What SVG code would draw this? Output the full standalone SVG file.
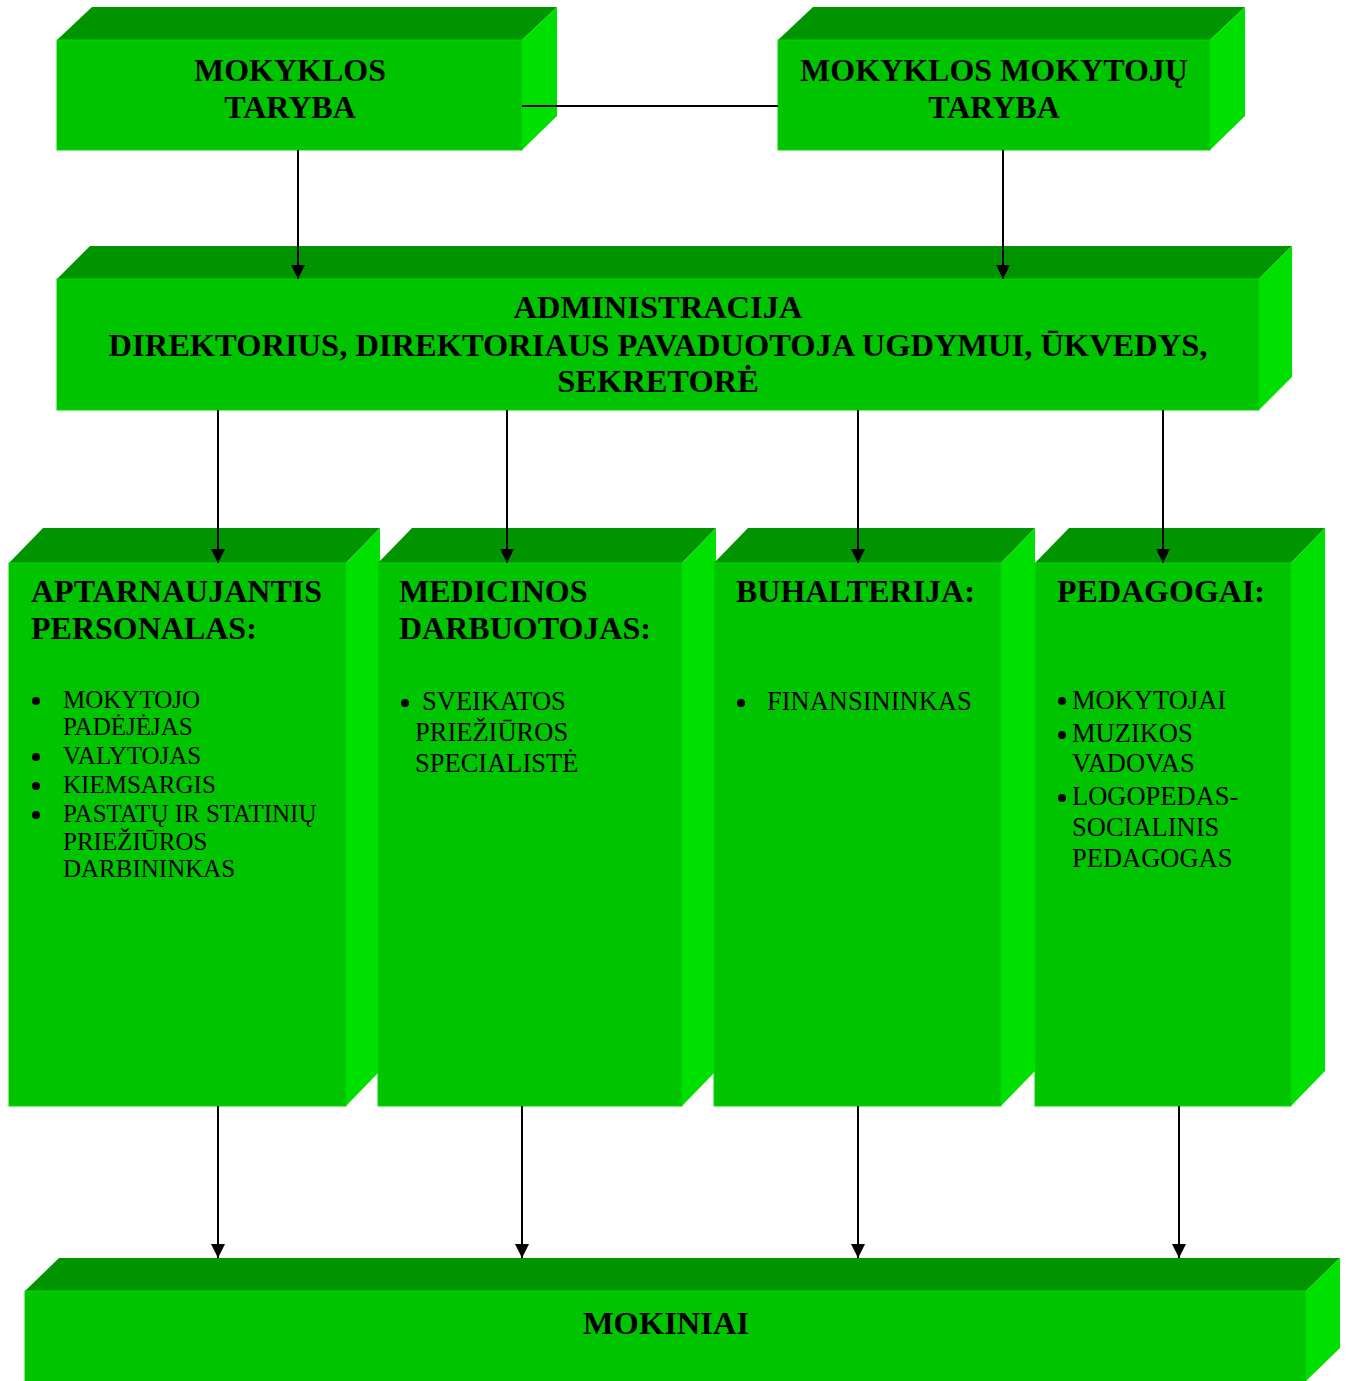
<svg xmlns="http://www.w3.org/2000/svg" width="1346" height="1381" viewBox="0 0 1346 1381">
<defs>
<style>
.front{fill:#00C400;stroke:#00D800;stroke-width:1}
.top{fill:#009400}
.side{fill:#00E000}
.h{font-family:"Liberation Serif","Times New Roman",serif;font-weight:bold;font-size:32px;fill:#000}
.hb{font-size:32.5px}
.t{font-family:"Liberation Serif","Times New Roman",serif;font-size:25px;fill:#000}
.t2{font-size:26.5px}
.c{text-anchor:middle}
.ln{stroke:#000;stroke-width:2;fill:none}
</style>
<marker id="arr" viewBox="0 0 14 14" refX="14" refY="7" markerWidth="14" markerHeight="14" markerUnits="userSpaceOnUse" orient="auto">
<path d="M0,0 L14,7 L0,14 Z" fill="#000"/>
</marker>
</defs>
<rect width="1346" height="1381" fill="#fff"/>

<g id="mokyklos-taryba">
<polygon class="top" points="57,40 92,7 557,7 522,40"/>
<polygon class="side" points="522,40 557,7 557,116 522,150"/>
<rect class="front" x="57" y="40" width="465" height="110"/>
<text class="h c" x="290" y="81">MOKYKLOS</text>
<text class="h c" x="290" y="118">TARYBA</text>
</g>

<g id="mokytoju-taryba">
<polygon class="top" points="778,40 813,7 1245,7 1210,40"/>
<polygon class="side" points="1210,40 1245,7 1245,116 1210,150"/>
<rect class="front" x="778" y="40" width="432" height="110"/>
<text class="h c" x="994" y="81">MOKYKLOS MOKYTOJŲ</text>
<text class="h c" x="994" y="118">TARYBA</text>
</g>

<g id="administracija">
<polygon class="top" points="57,279 90,246 1292,246 1259,279"/>
<polygon class="side" points="1259,279 1292,246 1292,377 1259,410"/>
<rect class="front" x="57" y="279" width="1202" height="131"/>
<text class="h hb c" x="658" y="318">ADMINISTRACIJA</text>
<text class="h hb c" x="658" y="356">DIREKTORIUS, DIREKTORIAUS PAVADUOTOJA UGDYMUI, ŪKVEDYS,</text>
<text class="h hb c" x="658" y="392">SEKRETORĖ</text>
</g>

<g id="aptarnaujantis">
<polygon class="top" points="9,563 43,528 380,528 346,563"/>
<polygon class="side" points="346,563 380,528 380,1071 346,1106"/>
<rect class="front" x="9" y="563" width="337" height="543"/>
<text class="h" x="31" y="602">APTARNAUJANTIS</text>
<text class="h" x="31" y="639">PERSONALAS:</text>
<circle cx="36" cy="701" r="4"/>
<text class="t" x="63" y="708">MOKYTOJO</text>
<text class="t" x="63" y="735">PADĖJĖJAS</text>
<circle cx="36" cy="757" r="4"/>
<text class="t" x="63" y="764">VALYTOJAS</text>
<circle cx="36" cy="786" r="4"/>
<text class="t" x="63" y="793">KIEMSARGIS</text>
<circle cx="36" cy="815" r="4"/>
<text class="t" x="63" y="822">PASTATŲ IR STATINIŲ</text>
<text class="t" x="63" y="850">PRIEŽIŪROS</text>
<text class="t" x="63" y="877">DARBININKAS</text>
</g>

<g id="medicinos">
<polygon class="top" points="378,563 412,528 716,528 682,563"/>
<polygon class="side" points="682,563 716,528 716,1071 682,1106"/>
<rect class="front" x="378" y="563" width="304" height="543"/>
<text class="h" x="399" y="602">MEDICINOS</text>
<text class="h" x="399" y="639">DARBUOTOJAS:</text>
<circle cx="405" cy="703" r="4"/>
<text class="t t2" x="422" y="710">SVEIKATOS</text>
<text class="t t2" x="415" y="741">PRIEŽIŪROS</text>
<text class="t t2" x="415" y="772">SPECIALISTĖ</text>
</g>

<g id="buhalterija">
<polygon class="top" points="714,563 748,528 1035,528 1001,563"/>
<polygon class="side" points="1001,563 1035,528 1035,1071 1001,1106"/>
<rect class="front" x="714" y="563" width="287" height="543"/>
<text class="h" x="736" y="602">BUHALTERIJA:</text>
<circle cx="741" cy="703" r="4"/>
<text class="t t2" x="767" y="710">FINANSININKAS</text>
</g>

<g id="pedagogai">
<polygon class="top" points="1035,563 1069,528 1325,528 1291,563"/>
<polygon class="side" points="1291,563 1325,528 1325,1071 1291,1106"/>
<rect class="front" x="1035" y="563" width="256" height="543"/>
<text class="h" x="1057" y="602">PEDAGOGAI:</text>
<circle cx="1062" cy="701" r="4"/>
<text class="t t2" x="1072" y="709">MOKYTOJAI</text>
<circle cx="1062" cy="735" r="4"/>
<text class="t t2" x="1072" y="742">MUZIKOS</text>
<text class="t t2" x="1072" y="772">VADOVAS</text>
<circle cx="1062" cy="798" r="4"/>
<text class="t t2" x="1072" y="805">LOGOPEDAS-</text>
<text class="t t2" x="1072" y="836">SOCIALINIS</text>
<text class="t t2" x="1072" y="867">PEDAGOGAS</text>
</g>

<g id="mokiniai">
<polygon class="top" points="25,1291 59,1258 1340,1258 1306,1291"/>
<polygon class="side" points="1306,1291 1340,1258 1340,1348 1306,1381"/>
<rect class="front" x="25" y="1291" width="1281" height="92"/>
<text class="h hb c" x="666" y="1334">MOKINIAI</text>
</g>

<g id="connectors">
<line class="ln" x1="522" y1="106" x2="778" y2="106"/>
<line class="ln" x1="298" y1="150" x2="298" y2="279" marker-end="url(#arr)"/>
<line class="ln" x1="1003" y1="150" x2="1003" y2="279" marker-end="url(#arr)"/>
<line class="ln" x1="218" y1="410" x2="218" y2="563" marker-end="url(#arr)"/>
<line class="ln" x1="507" y1="410" x2="507" y2="563" marker-end="url(#arr)"/>
<line class="ln" x1="858" y1="410" x2="858" y2="563" marker-end="url(#arr)"/>
<line class="ln" x1="1163" y1="410" x2="1163" y2="563" marker-end="url(#arr)"/>
<line class="ln" x1="218" y1="1106" x2="218" y2="1258" marker-end="url(#arr)"/>
<line class="ln" x1="522" y1="1106" x2="522" y2="1258" marker-end="url(#arr)"/>
<line class="ln" x1="858" y1="1106" x2="858" y2="1258" marker-end="url(#arr)"/>
<line class="ln" x1="1179" y1="1106" x2="1179" y2="1258" marker-end="url(#arr)"/>
</g>
</svg>
